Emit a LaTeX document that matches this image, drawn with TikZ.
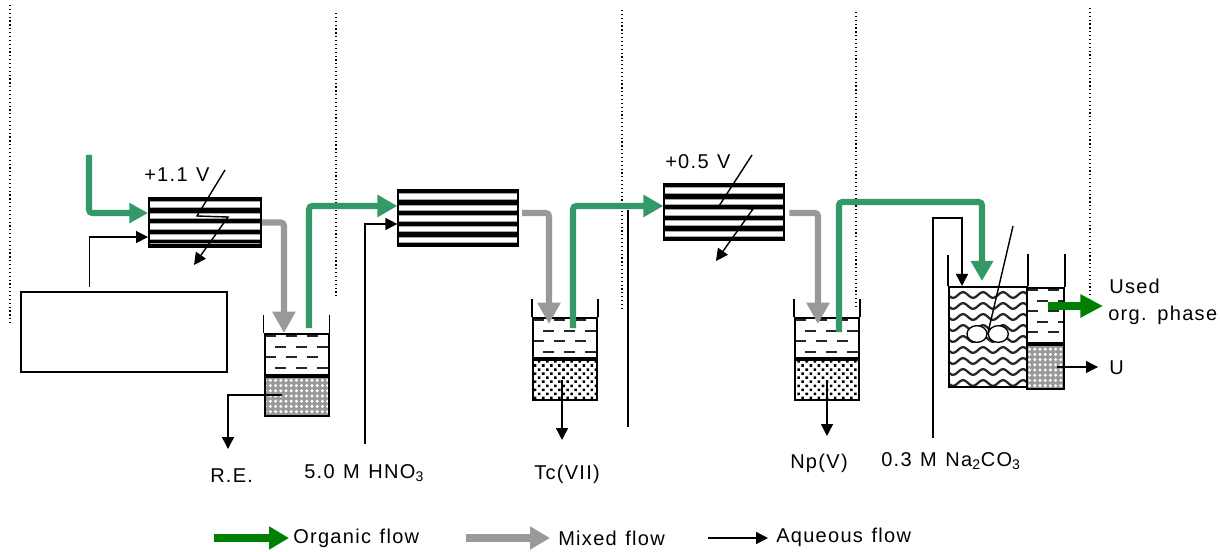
\documentclass[tikz,border=0pt]{standalone}
\usepackage{fontspec}
\setmainfont[LetterSpace=6.5,WordSpace=1.25]{Liberation Sans}
\usepackage{tikz}
\usetikzlibrary{arrows.meta,calc,positioning,patterns.meta,shapes.geometric}
\definecolor{orggreen}{HTML}{339966}
\definecolor{deepgreen}{HTML}{008000}
\definecolor{mixgray}{HTML}{999999}

\begin{document}
\begin{tikzpicture}[x=0.75pt, y=-0.75pt,
    lab/.style={inner sep=0pt, font=\fontsize{15}{18}\selectfont},
    contactor/.style={rectangle, draw, line width=1.5pt, inner sep=0pt, minimum height=#1, minimum width=90pt,
        path picture={
            \foreach \r in {1,12.5,23,34,44.5,#1*1.3333-1} {
                \draw [line width=4.6pt, black!35] ($(path picture bounding box.north west)+(0,\r)$) -- ($(path picture bounding box.north east)+(0,\r)$);
                \draw [line width=3.4pt] ($(path picture bounding box.north west)+(0,\r)$) -- ($(path picture bounding box.north east)+(0,\r)$);
            }
        }},
    orglayer/.style={rectangle, draw, line width=1.5pt, inner sep=0pt, minimum width=#1,
        path picture={
            \foreach \r/\ph in {2/0,12.5/8,23/0,33.5/8,44/0,54.5/8}
                \draw [line width=1.5pt, black!85, dash pattern=on 8.25pt off 7.5pt, dash phase=\ph pt] ($(path picture bounding box.north west)+(0,\r)$) -- ($(path picture bounding box.north east)+(0,\r)$);
        }},
    solids/.style={rectangle, draw, line width=1.5pt, inner sep=0pt, minimum width=#1, pattern={Dots[distance=4.3pt, angle=45, radius=1.35pt]}},
    finesolids/.style={rectangle, draw, line width=1.5pt, inner sep=0pt, minimum width=#1, preaction={fill=black!40}, pattern={Dots[distance=3.9pt, radius=1.25pt]}, pattern color=white},
    mixer/.style={rectangle, draw, line width=1.5pt, inner sep=0pt, minimum width=58.5pt, minimum height=75pt,
        path picture={
            \foreach \r in {-42,-31,-20,-9,2,13,24,35,46}
                \draw [line width=1.7pt, black!85, domain=-40:40, samples=61] plot (\x,{\r+2.8*sin(18*\x)});
        }},
    paddle/.style={ellipse, draw, fill=white, line width=1pt, inner sep=0pt, minimum width=15pt, minimum height=12.5pt},
    wall/.style={draw, line width=1pt},
    sep/.style={draw, line width=0.9pt, dotted},
    line/.style={draw, line width=1.05pt, -{Triangle[length=9pt,width=9pt]}},
    organic/.style={draw, orggreen, line width=4.6pt, rounded corners=2.5pt, -{Triangle[length=15pt,width=16pt]}},
    mixed/.style={draw, mixgray, line width=4.6pt, rounded corners=2.5pt, -{Triangle[length=16pt,width=16.5pt]}}]

    \useasboundingbox (0,0) rectangle (1220,552);

    % Dotted separators
    \coordinate (s1a) at (10,5);    \coordinate (s1b) at (10,323);
    \coordinate (s2a) at (336,13);  \coordinate (s2b) at (336,299);
    \coordinate (s3a) at (622,10);  \coordinate (s3b) at (622,310);
    \coordinate (s4a) at (856,12);  \coordinate (s4b) at (856,308);
    \coordinate (s5a) at (1090,8);  \coordinate (s5b) at (1090,298);
    \foreach \s in {s1,s2,s3,s4,s5} \path [sep] (\s a) -- (\s b);

    % Contactors
    \node [contactor=36.75, minimum width=84pt, minimum height=36.75pt] (cell1) at (205,222.5) {};
    \node [contactor=42, minimum height=42pt, right of=cell1, node distance=190pt, yshift=3.4pt] (cell2) {};
    \node [contactor=42, minimum height=42pt, right of=cell2, node distance=199.5pt, yshift=4.5pt] (cell3) {};

    % Feed box
    \node [draw, line width=1.2pt, minimum width=154.5pt, minimum height=60pt, inner sep=0pt] (feed) at (124,332) {};

    % Settling tanks
    \node [orglayer=48pt, minimum height=30.75pt] (tank1up) at (296.5,354.5) {};
    \node [finesolids=48pt, minimum height=29.25pt, below=0pt of tank1up] (tank1low) {};
    \node [orglayer=48pt, minimum height=30pt] (tank2up) at (565,338) {};
    \node [solids=48pt, minimum height=30pt, below=0pt of tank2up] (tank2low) {};
    \node [orglayer=48pt, minimum height=30pt] (tank3up) at (827,338) {};
    \node [solids=48pt, minimum height=30pt, below=0pt of tank3up] (tank3low) {};
    \foreach \t in {tank1up,tank2up,tank3up} {
        \path [wall] (\t.north west) -- ++(0,-18);
        \path [wall] (\t.north east) -- ++(0,-18);
    }

    % Mixer and settler
    \node [mixer] (mix) at (988,337) {};
    \node [orglayer=27.75pt, minimum height=41.25pt] (setup) at (1045.5,315.5) {};
    \node [finesolids=27.75pt, minimum height=33pt, below=0pt of setup] (setlow) {};
    \path [wall] (mix.north west) -- ++(0,-31);
    \path [wall] (mix.north east) -- ++(0,-32);
    \path [wall] (setup.north east) -- ++(0,-33);
    \coordinate (stirtop) at (1013,226);
    \node [paddle] (pad1) at (977,334) {};
    \node [paddle, right=0pt of pad1] (pad2) {};
    \path [draw, line width=1.05pt] (stirtop) -- (pad1.east);

    % Aqueous feeds
    \coordinate (feedtop) at ([xshift=-26pt,yshift=3pt]feed.north);
    \path [line] (feedtop) |- ([yshift=-10.9pt]cell1.west);
    \coordinate (hno) at (365,444);
    \path [line] (hno) |- ([yshift=-4.5pt]cell2.west);
    \coordinate (naco) at (933,438);
    \coordinate (nacotop) at (933,218);
    \path [line] (naco) -- (nacotop) -| ([xshift=-19.5pt]mix.north);

    % Organic flow
    \coordinate (orgin) at (89,155);
    \path [organic, -{Triangle[length=14pt,width=14.5pt]}] (orgin) |- ([yshift=7.1pt]cell1.west);
    \path [organic] ([xshift=9.4pt,yshift=3.75pt]tank1up.north) |- ([yshift=9pt]cell2.west);
    \path [organic] ([xshift=6pt,yshift=-8.25pt]tank2up.north) |- ([yshift=4.5pt]cell3.west);
    \coordinate (orgtop) at (982,202);
    \path [organic] ([xshift=9pt,yshift=-11.25pt]tank3up.north) |- (orgtop) -- ([xshift=-4.5pt,yshift=3.75pt]mix.north);

    % Mixed flow
    \path [mixed] (cell1.east) -| ([xshift=-9.4pt]tank1up.north);
    \path [mixed] ([xshift=2pt,yshift=3.75pt]cell2.east) -| ([xshift=-12pt,yshift=-5.25pt]tank2up.north);
    \path [mixed] ([xshift=3pt,yshift=-0.75pt]cell3.east) -| ([xshift=-6.75pt,yshift=-5.25pt]tank3up.north);

    % Cell voltages
    \coordinate (v1a) at (225,170); \coordinate (v1b) at (197,216);
    \coordinate (v1c) at (228,217); \coordinate (v1d) at (194,265);
    \path [line] (v1a) -- (v1b) -- (v1c) -- (v1d);
    \coordinate (v3a) at (752,155); \coordinate (v3b) at (719,206);
    \coordinate (v3c) at (753,209); \coordinate (v3d) at (716,261);
    \path [line] (v3a) -- (v3b) -- (v3c) -- (v3d);

    % Outlets
    \coordinate (reend) at (228,449);
    \path [line] ([xshift=-10.9pt,yshift=1pt]tank1low.center) -| (reend);
    \coordinate (tcend) at (562,440);
    \path [line] ([xshift=-2.25pt]tank2low.center) -- (tcend);
    \coordinate (npend) at (827,436);
    \path [line] (tank3low.center) -- (npend);
    \coordinate (uend) at (1098,367);
    \path [line] ([xshift=8.6pt]setlow.center |- uend) -- (uend);
    \coordinate (usedend) at (1103,306);
    \path [draw, deepgreen, line width=6pt, -{Triangle[length=17pt,width=16.5pt]}] ([xshift=2pt]setup.center |- usedend) -- (usedend);

    % Vertical rule
    \coordinate (rulea) at (628,210);
    \coordinate (ruleb) at (628,427);
    \path [draw, line width=1.05pt] (rulea) -- (ruleb);

    % Labels
    \node [lab, anchor=west] (v1) at (144,175) {+1.1 V};
    \node [lab, anchor=west] (v3) at (665,162) {+0.5 V};
    \node [lab, anchor=west] (re) at (210,476) {R.E.};
    \node [lab, anchor=west] (acid) at (304,473) {5.0 M HNO\textsubscript{3}};
    \node [lab, anchor=west] (tc) at (534,474) {Tc(VII)};
    \node [lab, anchor=west] (np) at (790,463) {Np(V)};
    \node [lab, anchor=west] (carb) at (881,461) {0.3 M Na\textsubscript{2}CO\textsubscript{3}};
    \node [lab, anchor=west] (used) at (1109,286) {Used};
    \node [lab, anchor=west] (phase) at (1108,315) {org. phase};
    \node [lab, anchor=west] (u) at (1109,368) {U};

    % Legend
    \coordinate (k1) at (214,538); \coordinate (k2) at (466,538); \coordinate (k3) at (708,538);
    \node [lab, anchor=west] (korg) at (293,538) {Organic flow};
    \node [lab, anchor=west] (kmix) at (558,538) {Mixed flow};
    \node [lab, anchor=west] (kaq) at (776,537) {Aqueous flow};
    \path [draw, deepgreen, line width=6.5pt, -{Triangle[length=15pt,width=16.5pt]}] (k1) -- ([xshift=-3pt]korg.west);
    \path [draw, mixgray, line width=6.5pt, -{Triangle[length=15pt,width=16.5pt]}] (k2) -- ([xshift=-6pt]kmix.west);
    \path [line] (k3) -- ([xshift=-6pt]kaq.west |- k3);

\end{tikzpicture}
\end{document}
